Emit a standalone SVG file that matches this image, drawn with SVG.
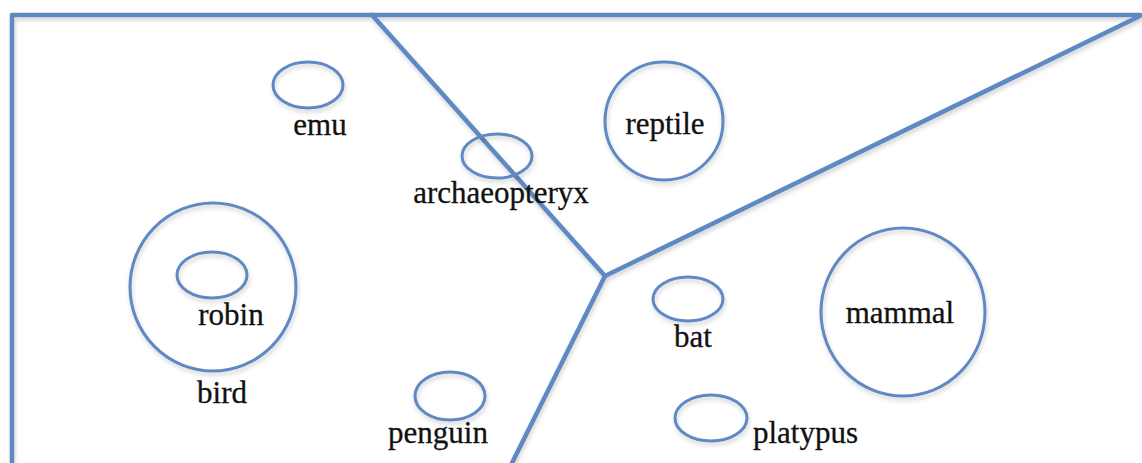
<svg xmlns="http://www.w3.org/2000/svg" width="1142" height="463" viewBox="0 0 1142 463">
  <defs>
    <filter id="sh" x="-20%" y="-20%" width="140%" height="140%">
      <feDropShadow dx="1" dy="3" stdDeviation="2" flood-color="#000" flood-opacity="0.18"/>
    </filter>
  </defs>
  <style>
    .ln { fill: none; stroke: #5f89c2; stroke-width: 4.5; stroke-linecap: round; stroke-linejoin: round; }
    .nd { fill: none; stroke: #5f89c2; stroke-width: 3; }
    .lb { font-family: "Liberation Serif", "Times New Roman", serif; font-size: 31px; fill: #111; stroke: #111; stroke-width: 0.3; }
    .c { text-anchor: middle; }
  </style>
  <rect width="1142" height="463" fill="#ffffff"/>
  <g id="connectors" filter="url(#sh)">
    <polyline class="ln" points="12,463 12,15 1140,15"/>
    <line class="ln" x1="372" y1="15" x2="605" y2="276"/>
    <line class="ln" x1="605" y1="276" x2="1140" y2="16"/>
    <line class="ln" x1="605" y1="276" x2="512" y2="463"/>
  </g>
  <g id="bird">
    <ellipse class="nd" cx="213" cy="287" rx="83" ry="84" filter="url(#sh)"/>
    <text class="lb c" x="222" y="403">bird</text>
  </g>
  <g id="robin">
    <ellipse class="nd" cx="212" cy="275" rx="35" ry="23" filter="url(#sh)"/>
    <text class="lb c" x="231" y="325">robin</text>
  </g>
  <g id="emu">
    <ellipse class="nd" cx="308" cy="85" rx="35" ry="23" filter="url(#sh)"/>
    <text class="lb c" x="320" y="135">emu</text>
  </g>
  <g id="archaeopteryx">
    <ellipse class="nd" cx="497" cy="156" rx="35" ry="22" filter="url(#sh)"/>
    <text class="lb c" x="501" y="203">archaeopteryx</text>
  </g>
  <g id="reptile">
    <ellipse class="nd" cx="664" cy="121" rx="59" ry="59" filter="url(#sh)"/>
    <text class="lb c" x="665" y="134">reptile</text>
  </g>
  <g id="penguin">
    <ellipse class="nd" cx="450" cy="396" rx="35" ry="24" filter="url(#sh)"/>
    <text class="lb c" x="438" y="443">penguin</text>
  </g>
  <g id="bat">
    <ellipse class="nd" cx="688" cy="299" rx="35" ry="22" filter="url(#sh)"/>
    <text class="lb c" x="693" y="347">bat</text>
  </g>
  <g id="platypus">
    <ellipse class="nd" cx="711" cy="418" rx="36" ry="23" filter="url(#sh)"/>
    <text class="lb" x="753" y="443">platypus</text>
  </g>
  <g id="mammal">
    <ellipse class="nd" cx="903" cy="312" rx="82" ry="84" filter="url(#sh)"/>
    <text class="lb c" x="900" y="323">mammal</text>
  </g>
</svg>
